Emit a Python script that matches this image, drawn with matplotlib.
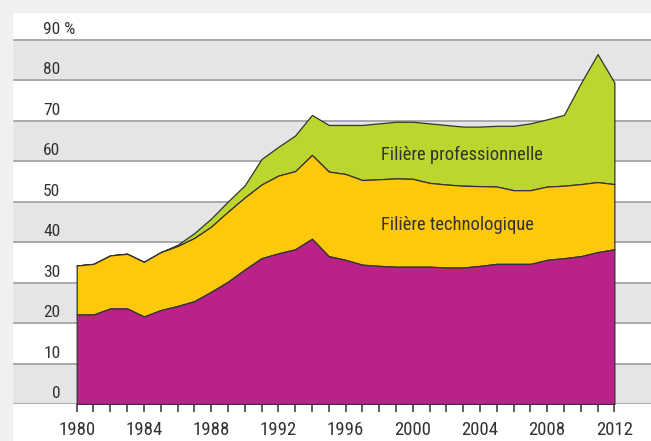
import matplotlib
matplotlib.use("Agg")
import matplotlib.pyplot as plt
from matplotlib import font_manager
import matplotlib.transforms as mtransforms
import numpy as np

years = list(range(1980, 2013))
generale = [22.1, 22.1, 23.6, 23.6, 21.6, 23.2, 24.2, 25.4, 27.7, 30.2, 33.2, 36.0, 37.2,
            38.2, 40.8, 36.5, 35.6, 34.4, 34.1, 33.9, 33.9, 33.9, 33.7, 33.7, 34.1, 34.6,
            34.6, 34.6, 35.6, 36.0, 36.5, 37.5, 38.2]
technologique = [12.1, 12.5, 13.1, 13.5, 13.5, 14.3, 14.8, 15.6, 16.1, 17.3, 17.8, 18.2, 19.2,
                 19.3, 20.7, 20.9, 21.2, 20.9, 21.4, 21.8, 21.7, 20.7, 20.5, 20.2, 19.7, 19.1,
                 18.2, 18.2, 18.1, 17.9, 17.8, 17.3, 16.1]
professionnelle = [0, 0, 0, 0, 0, 0, 0.3, 1.2, 2.0, 2.5, 3.0, 6.3, 7.1, 8.8, 9.9, 11.5, 12.1,
                   13.6, 13.8, 14.0, 14.1, 14.7, 14.7, 14.6, 14.7, 15.0, 15.9, 16.5, 16.6, 17.5,
                   24.9, 31.6, 25.1]
series_labels = ["Filière générale", "Filière technologique", "Filière professionnelle"]
ytick_values = [0, 10, 20, 30, 40, 50, 60, 70, 80, 90]
ytick_labels = ["0", "10", "20", "30", "40", "50", "60", "70", "80", "90 %"]
xtick_major = list(range(1980, 2013, 4))

available = {f.name for f in font_manager.fontManager.ttflist}
condensed = None
for name in ["Roboto Condensed", "Liberation Sans Narrow", "Open Sans Condensed",
             "DejaVu Sans Condensed", "Noto Sans Condensed"]:
    if name in available:
        condensed = name
        break
if condensed:
    FONT = dict(family=condensed)
    FS_Y, FS_X, FS_AREA = 12.5, 13.5, 13.3
else:
    FONT = dict(family="Roboto")
    FS_Y, FS_X, FS_AREA = 11.5, 12.0, 12.5

W, H = 651, 441
fig = plt.figure(figsize=(W / 100, H / 100), dpi=100, facecolor="white")

bg = "#eff0f2"
fig.patches.append(plt.Rectangle((0, 1 - 12 / H), 1, 12 / H, transform=fig.transFigure,
                                 color=bg, zorder=0))
fig.patches.append(plt.Rectangle((0, 0), 12 / W, 1, transform=fig.transFigure,
                                 color=bg, zorder=0))

ax = fig.add_axes([12 / W, (H - 404) / H, (W - 12) / W, (404 - 12) / H])
ax.set_xlim(1976.15, 2014.18)
ax.set_ylim(0, 96.8)
ax.set_facecolor("white")
for s in ax.spines.values():
    s.set_visible(False)

for i, v in enumerate(ytick_values[:-1]):
    if i % 2 == 0:
        ax.axhspan(v, v + 10, color="#e4e5e7", zorder=0, lw=0)
for v in ytick_values:
    ax.axhline(v, color="#a9aaac", lw=1.4, zorder=1)

x = np.array(years)
g = np.array(generale)
t = g + np.array(technologique)
p = t + np.array(professionnelle)

edge = "#333333"
ax.fill_between(x, t, p, facecolor="#bdd62f", edgecolor=edge, lw=0.9, zorder=2)
ax.fill_between(x, g, t, facecolor="#fec80b", edgecolor=edge, lw=0.9, zorder=3)
ax.fill_between(x, 0, g, facecolor="#b92288", edgecolor=edge, lw=0.9, zorder=4)

trans = mtransforms.blended_transform_factory(mtransforms.IdentityTransform(), ax.transData)
off = mtransforms.offset_copy(trans, fig=fig, x=0, y=3, units="dots")
for v, lab in zip(ytick_values, ytick_labels):
    pct = lab.endswith("%")
    ax.text(43 if pct else 60.5, v, lab, transform=off,
            ha="left" if pct else "right", va="bottom", fontsize=FS_Y,
            color="#333333", **FONT)

ax.set_yticks([])
ax.set_xticks(xtick_major)
ax.set_xticks(years, minor=True)
ax.set_xticklabels([str(y) for y in xtick_major], fontsize=FS_X, color="#333333", **FONT)
ax.tick_params(axis="x", which="both", direction="out", length=6, width=1.1,
               color="#333333", pad=6)

ax.text(1998.1, 61.6, series_labels[2], fontsize=FS_AREA, color="#333333", va="center",
        ha="left", **FONT)
ax.text(1998.1, 44.3, series_labels[1], fontsize=FS_AREA, color="#333333", va="center",
        ha="left", **FONT)
ax.text(1998.1, 20.5, series_labels[0], fontsize=FS_AREA, color="white", va="center",
        ha="left", **FONT)

fig.savefig("out.png", dpi=100, facecolor=fig.get_facecolor())
